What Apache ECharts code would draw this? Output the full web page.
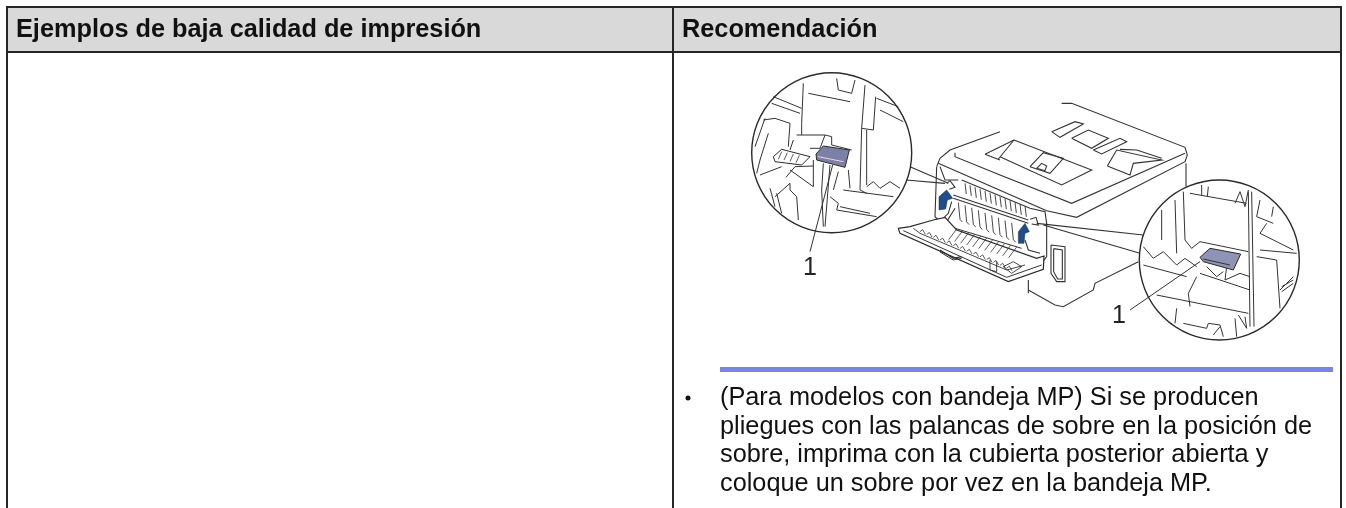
<!DOCTYPE html>
<html><head><meta charset="utf-8">
<style>html,body{margin:0;padding:0;background:#fff}#c{width:1346px;height:508px}</style>
<script src="https://cdn.jsdelivr.net/npm/echarts@6/dist/echarts.min.js"></script>
</head><body><div id="c"></div>
<script>
const headers = ["Ejemplos de baja calidad de impresión", "Recomendación"];
const bodyLines = [
  "(Para modelos con bandeja MP) Si se producen",
  "pliegues con las palancas de sobre en la posición de",
  "sobre, imprima con la cubierta posterior abierta y",
  "coloque un sobre por vez en la bandeja MP."
];
const calloutLabel = "1";

// Illustration strokes, in three local sketch frames
const L = (x, y) => [710 + x / 3, 60 + y / 3];
const R = (x, y) => [1000 + x / 3, 60 + y / 3];
const C = (x, y) => [890 + x / 3, 130 + y / 3];
const pl = (f, a) => { const o = []; for (let i = 0; i < a.length; i += 2) o.push(f(a[i], a[i + 1])); return o; };

const leftDetail = [
  [280,70,275,190],[295,100,420,125],[380,55,385,90,425,100,435,60],
  [465,75,455,205,490,210,497,110],[455,205,450,390],[470,210,470,375],
  [500,115,565,140],[510,150,580,185],[190,110,275,145],[185,130,270,160],
  [160,180,195,175,240,190,235,260],[175,220,150,300,140,340],[165,175,135,260],
  [250,240,240,270],[260,225,345,225,330,265,300,265],[275,190,275,225],
  [345,225,365,230,365,255,425,270],
  [310,300,310,380],[240,330,310,380],[228,352,255,320,310,318],
  [340,310,335,390,340,500],[360,315,345,500],[385,335,370,390],[415,330,420,385],
  [150,345,215,320],[195,410,240,370,240,390,260,410,265,480],[200,400,215,460],[180,385,195,440],
  [360,410,385,430,380,450,500,470],[390,440,480,460],[400,390,550,410],
  [470,380,490,365,510,385,540,365,570,385],[450,390,470,400]
];
const rightDetail = [
  [570,400,740,430],[605,375,605,405],[625,380,622,410],[705,430,720,395,735,440,745,390],
  [755,395,762,800],[745,395,750,800],[485,450,485,540],[525,420,530,580],
  [550,395,555,540,575,565,600,545,745,575],[430,560,460,595,490,575,530,615,555,595,590,620],
  [430,615,560,650],[780,420,770,470,820,490],[820,440,815,470],[800,490,780,520,880,570],
  [780,570,890,580],[770,590,830,600,840,745],[600,640,750,690],[590,650,565,700,570,740],
  [470,705,745,760],[530,745,525,790],[550,790,620,805,625,790,660,795,670,830],
  [640,825,660,800],[705,775,710,830],[715,765,740,805,735,770],
  [840,690,880,650],[845,680,880,660],[845,695,880,670],[680,620,675,660,720,640,750,650],
  [620,620,650,650,670,635]
];
const bodyR = [
  [185,130,215,130,555,262,562,285,555,305,230,472,140,452],
  [0,345,215,430,555,280],[558,310,558,380],
  [415,605,285,670,280,690,190,740,165,735,85,690],
  [42,240,275,330,185,375,0,290],
  [90,320,130,278,190,295,150,340,90,320],[110,325,125,310,140,318,135,332,110,325],
  [155,215,225,185,250,192,180,232,155,215],[215,235,265,210,325,235,275,265,215,235],
  [280,270,360,235,380,245,305,282,280,270],
  [322,318,350,270,485,300,400,310,390,345,322,318],[360,268,410,270,485,295]
];
const bodyL = [[870,215,720,270,690,295,680,320],[735,278,735,290,870,345],[825,283,912,240],[825,283,870,300],[865,297,912,240]];
const rearC = [
  [145,100,470,242],[140,110,135,260,150,275],[150,110,165,150,205,150],[215,150,420,235,465,245,470,280,470,380,440,420],
  [190,195,415,270],[190,205,415,280],[415,450,415,490],
  [483,345,525,350,525,455,500,455,483,430,483,345],[491,356,517,360,517,447,503,447,491,425,491,356],
  [170,160,180,152,195,172,178,178],[420,268,438,262,445,285,425,282],
  [185,215,175,250,150,275,130,290],[195,235,170,275,200,300],[405,330,415,360,450,370]
];
// Fuser ribs: hand-placed stroke anchors along the rear opening
const upperRibsC = [225,240,255,270,285,300,315,330,345,360,375,390,405];
const lowerRibsC = [205,225,245,265,285,305,325,345,365];
const doorTeethC = [90,110,130,150,170,190,210,230,250,270,290,310,330,350];
const doorBarsC = [200,218,236,254,272,290,308,326,344,362,380];

const ink = '#2a2a2a', thin = '#333';
const line = (pts, w, c) => ({ type: 'polyline', shape: { points: pts }, style: { stroke: c || thin, lineWidth: w || 1, fill: null } });
const poly = (pts, fill, w) => ({ type: 'polygon', shape: { points: pts }, style: { fill, stroke: ink, lineWidth: w || 1 } });
const seg = (x1, y1, x2, y2, w, c) => ({ type: 'line', shape: { x1, y1, x2, y2 }, style: { stroke: c || '#262626', lineWidth: w || 2 } });
const txt = (t, x, y, font, c) => ({ type: 'text', style: { text: t, x, y, font, fill: c || '#111', verticalAlign: 'middle', align: 'left' } });

const els = [];
// Table
els.push({ type: 'rect', shape: { x: 6, y: 7, width: 1334, height: 45 }, style: { fill: '#d9d9d9' } });
els.push(seg(6, 7, 1341, 7), seg(6, 52, 1341, 52), seg(7, 6, 7, 508), seg(673, 6, 673, 508), seg(1341, 6, 1341, 508));
els.push(txt(headers[0], 16, 30, 'bold 25.3px "Liberation Sans"'));
els.push(txt(headers[1], 682, 30, 'bold 25.3px "Liberation Sans"'));
// Printer body
bodyR.forEach(a => els.push(line(pl(R, a), 1.1)));
bodyL.forEach(a => els.push(line(pl(L, a), 1.1)));
rearC.forEach(a => els.push(line(pl(C, a), 1.1)));
upperRibsC.forEach(x => { const y = 160 + (x - 225) * 0.38; els.push(line(pl(C, [x, y, x + 4, y + 32]), 0.9)); });
lowerRibsC.forEach(x => { const y = 218 + (x - 205) * 0.38; els.push(line(pl(C, [x, y, x + 5, y + 50, x + 12, y + 58]), 0.9)); });
// Open rear door
els.push(poly(pl(C, [25,295,60,290,130,270,165,262,200,300,440,385,462,378,460,418,355,455,30,310]), '#fff', 1.2));
els.push(line(pl(C, [40,302,350,442,455,405]), 1));
els.push(line(pl(C, [70,295,90,310,350,420,405,405]), 0.9));
els.push(line(pl(C, [150,360,190,385,215,380]), 1.2));
els.push(line(pl(C, [150,366,190,390,215,385]), 1));
els.push(line(pl(C, [195,295,395,355]), 1));
els.push(line(pl(C, [300,390,300,420,320,425,320,395]), 0.9));
els.push(line(pl(C, [340,410,370,395,395,410,365,430,340,410]), 0.9));
doorTeethC.forEach(x => { const y = 305 + (x - 90) * 0.42; els.push(line(pl(C, [x, y, x + 8, y - 6, x + 16, y + 8]), 0.8)); });
doorBarsC.forEach(x => { const y = 297 + (x - 200) * 0.3; els.push(line(pl(C, [x, y, x - 24, y + 32]), 0.8)); });
els.push(poly(pl(C, [147,240,147,200,170,180,188,205,172,210,167,237]), '#1c4f8f', 0.5));
els.push(poly(pl(C, [385,340,385,305,405,280,418,305,405,310,402,340]), '#1c4f8f', 0.5));
// Callout wedges
els.push(line(pl(C, [60,110,175,160]), 1.1), line(pl(C, [48,150,165,160]), 1.1));
els.push(line(pl(R, [430,525,110,490]), 1.1), line(pl(R, [420,580,130,495]), 1.1));
// Loupes
els.push({ type: 'circle', shape: { cx: 831.7, cy: 152.7, r: 80 }, style: { fill: '#fff', stroke: ink, lineWidth: 1.4 } });
els.push({ type: 'circle', shape: { cx: 1219.3, cy: 260, r: 80 }, style: { fill: '#fff', stroke: ink, lineWidth: 1.4 } });
leftDetail.forEach(a => els.push(line(pl(L, a), 1)));
rightDetail.forEach(a => els.push(line(pl(R, a), 1)));
els.push(poly(pl(L, [190,290,215,268,300,290,275,315,195,305]), '#fff'));
[[215,275,205,298],[232,278,222,300],[250,282,240,304],[268,286,258,308]].forEach(a => els.push(line(pl(L, a), 0.8)));
els.push(poly(pl(L, [318,282,340,258,418,270,405,322,320,300]), '#7d80a6'));
els.push(line(pl(L, [325,290,400,305]), 1, '#ddd'));
els.push(poly(pl(R, [600,592,630,565,722,582,700,630,610,605]), '#8f93b5'));
els.push(line(pl(R, [610,597,690,615]), 1, '#333'));
// Leader lines and labels
els.push(line(pl(L, [368,315,300,575]), 1), line(pl(R, [600,605,390,750]), 1));
els.push(txt(calloutLabel, 803, 268, '25px "Liberation Sans"', '#222'));
els.push(txt(calloutLabel, 1112, 316, '25px "Liberation Sans"', '#222'));
// Separator, bullet and paragraph
els.push({ type: 'rect', shape: { x: 720, y: 367, width: 613, height: 5 }, style: { fill: '#7b86e2' } });
els.push({ type: 'circle', shape: { cx: 688, cy: 398, r: 2.5 }, style: { fill: '#111' } });
const lineY = [398, 427, 455.5, 484];
bodyLines.forEach((t, i) => els.push(txt(t, 720, lineY[i], '25.3px "Liberation Sans"')));

const chart = echarts.init(document.getElementById('c'), null, { renderer: 'canvas' });
chart.setOption({ animation: false, backgroundColor: '#fff', graphic: { elements: els } });
</script></body></html>
